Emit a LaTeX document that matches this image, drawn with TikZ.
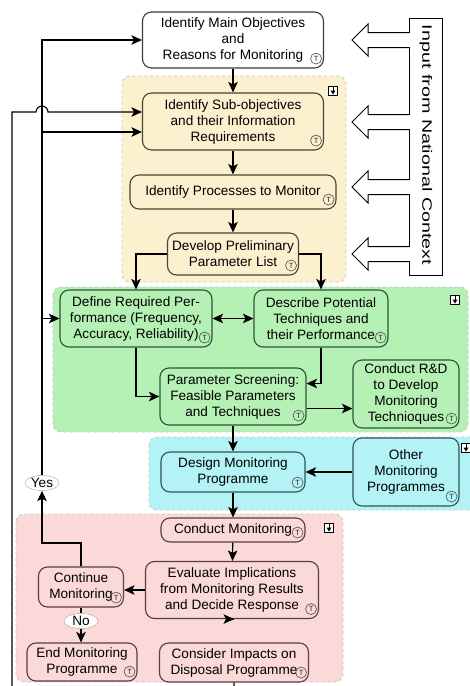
\documentclass[tikz,border=0pt]{standalone}
\usepackage{fontspec}
\setmainfont{Liberation Sans}
\usetikzlibrary{arrows.meta,shapes.geometric,calc}

\definecolor{bgyellow}{HTML}{FCF1CF}
\definecolor{bggreen}{HTML}{B5F0B5}
\definecolor{bgcyan}{HTML}{B3F3F6}
\definecolor{bgpink}{HTML}{FBD9D9}
\definecolor{lnyellow}{HTML}{4A4433}
\definecolor{lngreen}{HTML}{2E5238}
\definecolor{lncyan}{HTML}{2E5456}
\definecolor{lnpink}{HTML}{55403F}
\definecolor{lngrey}{HTML}{3A3A3A}

\begin{document}
\begin{tikzpicture}[x=1pt, y=-1pt,
    stage/.style={draw=#1, rounded corners=9pt, line width=1.1pt, align=center,
        inner sep=1pt, font=\fontsize{13.6}{16}\selectfont},
    grp/.style={fill=#1, draw=gray!45, dashed, line width=0.8pt, rounded corners=8pt},
    arr/.style={-{Stealth[length=10.5pt, width=9.5pt, inset=2.5pt]}, line width=1.1pt},
    darr/.style={{Stealth[length=10.5pt, width=9.5pt, inset=2.5pt]}-{Stealth[length=10.5pt, width=9.5pt, inset=2.5pt]}, line width=1.1pt},
    tee/.style={circle, draw=gray!60!black, line width=0.6pt, inner sep=0pt,
        minimum size=11pt, text=gray!30!black, font=\fontsize{7.5}{7.5}\selectfont},
    answer/.style={ellipse, draw=gray!70, fill=white, inner sep=0pt,
        minimum width=34pt, minimum height=15pt, font=\fontsize{13.6}{13.6}\selectfont}]

    % Frame
    \clip (0,0) rectangle (470,686);

    % Coloured groups
    \draw[grp=bgyellow] (122,76) rectangle (346,282);
    \draw[grp=bggreen] (53,287) rectangle (468,432);
    \draw[grp=bgcyan] (149,437) rectangle (480,510);
    \draw[grp=bgpink] (16,514) rectangle (343,682);

    % Collapse icons of the groups
    \foreach \x/\y in {333/91, 455/300, 466/448, 329/528}{
    \draw[fill=white, line width=0.5pt] (\x-4.5,\y-4.5) rectangle (\x+4.5,\y+4.5);
    \fill (\x-2.5,\y-0.5) -- (\x+2.5,\y-0.5) -- (\x,\y+3.5) -- cycle;
    \draw[line width=0.5pt] (\x,\y-4.5) -- (\x,\y-0.5);
    }

    % Input from national context
    \draw[line width=1pt, fill=white] (409,18) rectangle (442,275);
    \node[rotate=-90] (nctx) at (426,145) {\scalebox{1.45}[1]{\fontsize{13.6}{13.6}\selectfont Input from National Context}};
    \foreach \t in {40, 122, 187, 254}{
    \fill[white] (366,\t-7) rectangle (410.5,\t+7);
    \draw[line width=1pt] (409.5,\t-7.5) -- (368,\t-7.5) -- (368,\t-16) -- (352,\t)
        -- (368,\t+16) -- (368,\t+7.5) -- (409.5,\t+7.5);
    }

    % Steps
    \node[stage=lngrey, fill=white, minimum width=181pt, minimum height=56pt] (main) at (233,40)
        {Identify Main Objectives\\and\\Reasons for Monitoring};
    \node[stage=lnyellow, fill=bgyellow, minimum width=181pt, minimum height=57pt] (sub) at (233,121.5)
        {Identify Sub-objectives\\and their Information\\Requirements};
    \node[stage=lnyellow, fill=bgyellow, minimum width=206pt, minimum height=34pt] (proc) at (233,192)
        {Identify Processes to Monitor};
    \node[stage=lnyellow, fill=bgyellow, minimum width=131pt, minimum height=42pt] (plist) at (233,254)
        {Develop Preliminary\\Parameter List};
    \node[stage=lngreen, fill=bggreen, minimum width=152pt, minimum height=57pt] (define) at (136,318.5)
        {Define Required Per-\\formance (Frequency,\\Accuracy, Reliability)};
    \node[stage=lngreen, fill=bggreen, minimum width=134pt, minimum height=57pt] (describe) at (321,318.5)
        {Describe Potential\\Techniques and\\their Performance};
    \node[stage=lngreen, fill=bggreen, minimum width=146pt, minimum height=57pt] (screen) at (233,396.5)
        {Parameter Screening:\\Feasible Parameters\\and Techniques};
    \node[stage=lngreen, fill=bggreen, minimum width=106pt, minimum height=68pt] (rnd) at (406,394)
        {Conduct R\&D\\to Develop\\Monitoring\\Technioques};
    \node[stage=lncyan, fill=bgcyan, minimum width=144pt, minimum height=40pt] (design) at (233,472)
        {Design Monitoring\\Programme};
    \node[stage=lncyan, fill=bgcyan, minimum width=106pt, minimum height=68pt] (other) at (406,472)
        {Other\\Monitoring\\Programmes};
    \node[stage=lnpink, fill=bgpink, minimum width=144pt, minimum height=24pt] (conduct) at (233,530)
        {Conduct Monitoring};
    \node[stage=lnpink, fill=bgpink, minimum width=173pt, minimum height=57pt] (evaluate) at (232,590)
        {Evaluate Implications\\from Monitoring Results\\and Decide Response};
    \node[stage=lnpink, fill=bgpink, minimum width=85pt, minimum height=40pt] (cont) at (81,587)
        {Continue\\Monitoring};
    \node[stage=lnpink, fill=bgpink, minimum width=110pt, minimum height=38pt] (endp) at (82,662)
        {End Monitoring\\Programme};
    \node[stage=lnpink, fill=bgpink, minimum width=149pt, minimum height=39pt] (consider) at (234,662.5)
        {Consider Impacts on\\Disposal Programme};

    % Decisions
    \node[answer] (yes) at (42,483) {Yes};
    \node[answer] (no) at (81,621) {No};

    % Helper points
    \coordinate (sub-in1) at ($(sub.west)+(0pt,9.5pt)$);
    \coordinate (sub-in2) at ($(sub.west)+(0pt,-10.5pt)$);
    \coordinate (scr-in) at ($(screen.east)+(0pt,13pt)$);
    \coordinate (scr-out) at ($(screen.east)+(0pt,-12pt)$);
    \coordinate (turn) at (42,543);
    \coordinate (low) at (0,700);

    % Main column
    \draw[arr] (main) -- (sub);
    \draw[arr] (sub) -- (proc);
    \draw[arr] (proc) -- (plist);
    \draw[arr] (plist.west) -| (define.north);
    \draw[arr] (plist.east) -| (describe.north);
    \draw[darr] (define) -- (describe);
    \draw[arr] (define.south) |- (screen.west);
    \draw[arr] (describe.south) |- (scr-in);
    \draw[arr] (scr-out) -- (scr-out -| rnd.west);
    \draw[arr] (screen) -- (design);
    \draw[arr] (other.west) -- (design.east);
    \draw[arr] (design) -- (conduct);
    \draw[arr] (conduct) -- (evaluate);
    \draw[arr] (evaluate.west) -- (evaluate.west -| cont.east);
    \draw[arr] (evaluate) -- (evaluate.south -| consider.north);

    % Decision loops
    \draw[line width=1.1pt] (cont) -- (no);
    \draw[arr] (no.south) -- (no.south |- endp.north);
    \draw[arr] (cont.north) |- (turn) -- (yes.south);
    \draw[arr] (yes.north) |- (main.west);
    \draw[arr] (yes.north |- sub-in2) -- (sub-in2);
    \draw[arr] (yes.north |- define.west) -- (define.west);
    \draw[arr] (consider.south) -- (consider.south |- low) -| (12,112) -- (36,112)
        arc[start angle=180, end angle=360, radius=6] -- (sub-in1);

    % T marks
    \foreach \b in {main, sub, proc, plist, define, describe, screen, rnd,
        design, other, conduct, evaluate, cont, endp, consider}{
    \node[tee] at ([shift={(-8pt,10pt)}]\b.south east) {T};
    }
\end{tikzpicture}
\end{document}
